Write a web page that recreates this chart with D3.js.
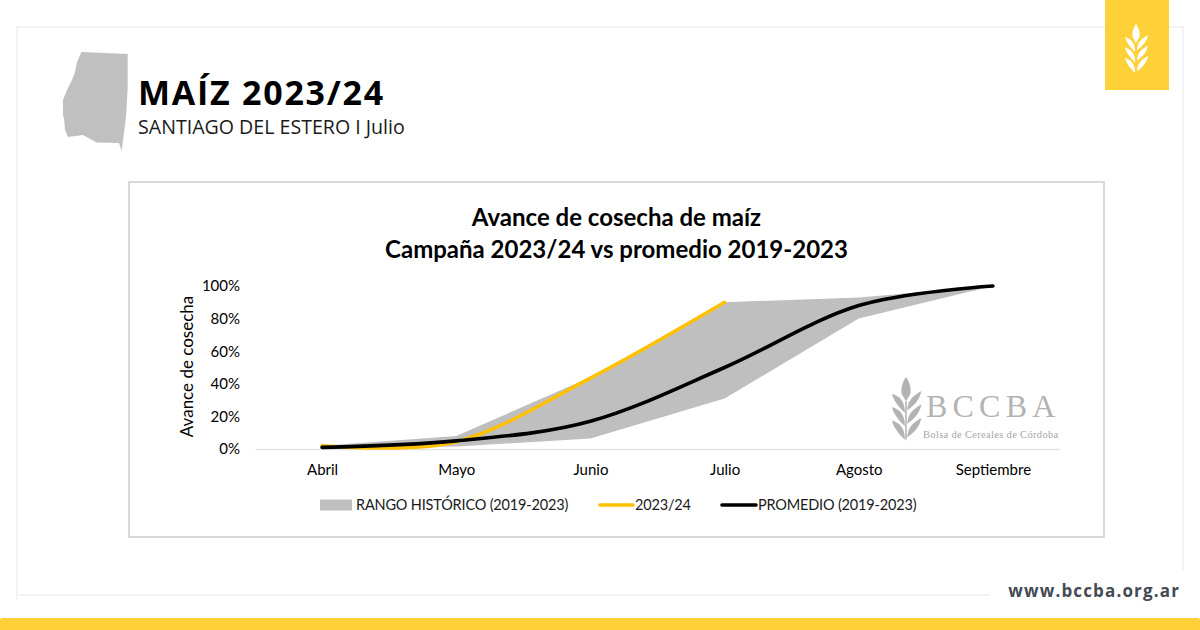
<!DOCTYPE html>
<html>
<head>
<meta charset="utf-8">
<script src="https://cdn.jsdelivr.net/npm/d3@7"></script>
<style>
    html, body { margin: 0; padding: 0; background: #fff; }
    svg { display: block; }
</style>
</head>
<body>
<svg width="1200" height="630"></svg>
<script>
const months = ["Abril", "Mayo", "Junio", "Julio", "Agosto", "Septiembre"];
const rangoMax = [2, 8, 44, 90, 93, 100];
const rangoMin = [1, 1.5, 6.5, 31, 80, 100];
const campania = [2, 4.5, 43.5, 90];
const promedio = [1, 5, 17, 50, 88, 100];
const yTicks = [0, 20, 40, 60, 80, 100];
const legendLabels = ["RANGO HISTÓRICO (2019-2023)", "2023/24", "PROMEDIO (2019-2023)"];

const svg = d3.select("svg");
const yellow = "#ffd139";

// page frame, it stops short of the corner with the url
svg.append("path")
    .attr("d", "M17,600V27H1183V570M17,595H990")
    .attr("fill", "none")
    .attr("stroke", "#f2f2f7")
    .attr("stroke-width", 2);
svg.append("rect")
    .attr("x", 1105).attr("y", 0)
    .attr("width", 64).attr("height", 90)
    .attr("fill", yellow);
svg.append("rect")
    .attr("x", 0).attr("y", 618)
    .attr("width", 1200).attr("height", 14)
    .attr("rx", 2)
    .attr("fill", yellow);

// wheat ear, used for the corner icon and the watermark
function drawWheat (cx, top, scale, color, withStem) {
    const g = svg.append("g")
        .attr("transform", `translate(${cx},${top}) scale(${scale})`)
        .attr("fill", color);
    g.append("path").attr("d", "M0,0 C3,4 4,9 3.5,13 L0,19 L-3.5,13 C-4,9 -3,4 0,0Z");
    [14, 24.5, 35].forEach(y => {
        g.append("path").attr("d", `M1,${y + 11} C2,${y + 4} 5,${y + 1} 12,${y - 3} C11,${y + 3} 7,${y + 8} 1,${y + 12}Z`);
        g.append("path").attr("d", `M-1,${y + 11} C-2,${y + 4} -5,${y + 1} -11,${y - 1} C-10,${y + 4} -6,${y + 9} -1,${y + 14}Z`);
    });
    if (withStem) {
        g.append("path").attr("d", "M-0.6,19 H0.6 V48 L0,50 L-0.6,48Z");
    }
}
drawWheat(1136, 24, 1, "#fff", false);

// province silhouette
svg.append("path")
    .attr("d", "M81.5,52 L127.7,54 L127.7,87 L126,117 L121.7,151 L119,143 L96.7,142.5 L83,135 L68,137 L65,130 L64,118 L63,116 L63,100 L65,95 L67,90 L72,80 L75,72 L77,62Z")
    .attr("fill", "#c0c0c0");

svg.append("text")
    .attr("x", 138).attr("y", 105)
    .attr("font-family", "Open Sans")
    .attr("font-weight", 700)
    .attr("font-size", 34)
    .attr("letter-spacing", 1.75)
    .attr("fill", "#000")
    .text("MAÍZ 2023/24");
svg.append("text")
    .attr("x", 138).attr("y", 134)
    .attr("font-family", "Open Sans")
    .attr("font-size", 19.6)
    .attr("fill", "#1a1a1a")
    .text("SANTIAGO DEL ESTERO I Julio");

svg.append("text")
    .attr("x", 1180).attr("y", 597)
    .attr("text-anchor", "end")
    .attr("font-family", "Open Sans")
    .attr("font-weight", 700)
    .attr("font-size", 17)
    .attr("letter-spacing", 1.15)
    .attr("fill", "#434a54")
    .text("www.bccba.org.ar");

// chart box
svg.append("rect")
    .attr("x", 129).attr("y", 182)
    .attr("width", 975).attr("height", 355)
    .attr("fill", "#fff")
    .attr("stroke", "#d9d9d9")
    .attr("stroke-width", 2);

const chartFont = "Lato";
["Avance de cosecha de maíz", "Campaña 2023/24 vs promedio 2019-2023"].forEach((t, i) => {
    svg.append("text")
        .attr("x", 616.5).attr("y", 226 + i * 32)
        .attr("text-anchor", "middle")
        .attr("font-family", chartFont)
        .attr("font-weight", 700)
        .attr("font-size", 24)
        .attr("fill", "#000")
        .text(t);
});

const x = d3.scalePoint().domain(months).range([255, 1060]).padding(0.5);
const y = d3.scaleLinear().domain([0, 100]).range([449, 286]);

const plot = svg.append("g");

drawWheat(906, 377, 1.28, "#b3b3b3", true);
svg.append("text")
    .attr("x", 926).attr("y", 417)
    .attr("font-family", "Liberation Serif")
    .attr("font-size", 32)
    .attr("letter-spacing", 5.2)
    .attr("fill", "#b3b3b3")
    .text("BCCBA");
svg.append("text")
    .attr("x", 923).attr("y", 438)
    .attr("font-family", "Liberation Serif")
    .attr("font-size", 10.5)
    .attr("letter-spacing", 0.32)
    .attr("fill", "#a6a6a6")
    .text("Bolsa de Cereales de Córdoba");

plot.append("path")
    .datum(months)
    .attr("fill", "#bfbfbf")
    .attr("d", d3.area()
        .x(d => x(d))
        .y0((d, i) => y(rangoMin[i]))
        .y1((d, i) => y(rangoMax[i])));

// excel smoothed lines behave like a uniform catmull-rom
const smooth = d3.line()
    .x((d, i) => x(months[i]))
    .y(d => y(d))
    .curve(d3.curveCardinal.tension(0));

const xAxis = svg.append("g")
    .attr("transform", `translate(0,${y(0)})`)
    .call(d3.axisBottom(x).tickSize(0).tickPadding(15));
xAxis.select(".domain").attr("stroke", "#e3e3e3").attr("stroke-width", 1.5);

const yAxis = svg.append("g")
    .attr("transform", "translate(240,0)")
    .call(d3.axisLeft(y).tickValues(yTicks).tickSize(0).tickPadding(0).tickFormat(d => d + "%"));
yAxis.select(".domain").remove();

svg.selectAll(".tick text")
    .attr("font-family", chartFont)
    .attr("font-size", 15)
    .attr("fill", "#000");

plot.append("path")
    .datum(campania)
    .attr("fill", "none")
    .attr("stroke", "#ffc000")
    .attr("stroke-width", 3.6)
    .attr("stroke-linecap", "round")
    .attr("d", smooth);
plot.append("path")
    .datum(promedio)
    .attr("fill", "none")
    .attr("stroke", "#000")
    .attr("stroke-width", 3.6)
    .attr("stroke-linecap", "round")
    .attr("d", smooth);
svg.node().appendChild(plot.node());

svg.append("text")
    .attr("transform", "translate(193,366.5) rotate(-90)")
    .attr("text-anchor", "middle")
    .attr("font-family", chartFont)
    .attr("font-size", 17)
    .attr("fill", "#000")
    .text("Avance de cosecha");

// legend
const legendY = 505;
svg.append("rect")
    .attr("x", 320).attr("y", legendY - 5.5)
    .attr("width", 32).attr("height", 11)
    .attr("fill", "#bfbfbf");
[[600, 633, "#ffc000"], [722, 756, "#000"]].forEach(d => {
    svg.append("line")
        .attr("x1", d[0]).attr("x2", d[1])
        .attr("y1", legendY).attr("y2", legendY)
        .attr("stroke", d[2])
        .attr("stroke-width", 3.6)
        .attr("stroke-linecap", "round");
});
[356, 635, 758].forEach((lx, i) => {
    svg.append("text")
        .attr("x", lx).attr("y", legendY + 5)
        .attr("font-family", chartFont)
        .attr("font-size", 14.5)
        .attr("letter-spacing", -0.18)
        .attr("fill", "#1a1a1a")
        .text(legendLabels[i]);
});
</script>
</body>
</html>
